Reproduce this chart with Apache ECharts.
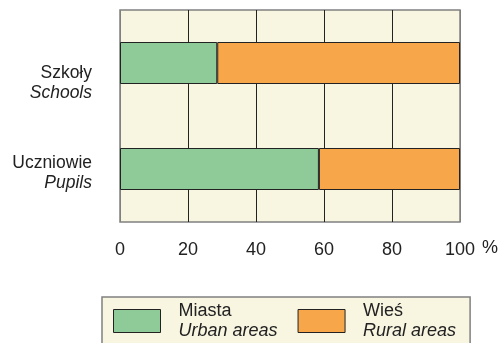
<!DOCTYPE html>
<html>
<head>
<meta charset="utf-8">
<script src="https://cdn.jsdelivr.net/npm/echarts@6/dist/echarts.min.js"></script>
<style>
html, body { margin: 0; padding: 0; background: #fff; }
#main { width: 500px; height: 343px; }
</style>
</head>
<body>
<div id="main"></div>
<script>
// dane z wykresu (udział w %)
var categories = ['Szkoły', 'Uczniowie'];
var categoriesEn = ['Schools', 'Pupils'];
var urban = [28.6, 58.5];
var rural = [71.4, 41.5];
var xTicks = [0, 20, 40, 60, 80, 100];
var seriesNames = ['Miasta', 'Wieś'];
var seriesNamesEn = ['Urban areas', 'Rural areas'];

var cream = '#f8f5e1';
var green = '#8fcb98';
var orange = '#f8a64a';
var font = '"Liberation Sans", Arial, Helvetica, sans-serif';

function main() {
    var myChart = echarts.init(document.getElementById('main'));

    var option = {
        animation: false,
        textStyle: { fontFamily: font, color: '#222' },
        grid: {
            left: 120, right: 40, top: 10, bottom: 121,
            show: true,
            backgroundColor: cream,
            borderColor: '#808080',
            borderWidth: 1.5,
            outerBoundsMode: 'none'
        },
        legend: {
            left: 102,
            top: 297,
            orient: 'horizontal',
            itemWidth: 47,
            itemHeight: 23,
            itemGap: 20,
            icon: 'rect',
            padding: [5, 14, 30, 11],
            backgroundColor: cream,
            borderColor: '#808080',
            borderWidth: 1.5,
            borderRadius: 0,
            data: seriesNames,
            itemStyle: { borderColor: '#222', borderWidth: 1 },
            formatter: function (name) {
                var i = seriesNames.indexOf(name);
                return '{a|' + name + '}\n{b|' + seriesNamesEn[i] + '}';
            },
            textStyle: {
                padding: [0, 0, 0, 13],
                rich: {
                    a: { fontSize: 18, lineHeight: 20, color: '#222', fontFamily: font },
                    b: { fontSize: 18, lineHeight: 20, color: '#222', fontFamily: font, fontStyle: 'italic' }
                }
            }
        },
        xAxis: {
            type: 'value',
            min: 0,
            max: 100,
            interval: 20,
            name: '%',
            nameLocation: 'end',
            nameGap: 22,
            nameTextStyle: { fontSize: 18, color: '#222', verticalAlign: 'top', lineHeight: 52 },
            axisLine: { show: false },
            axisTick: { show: false },
            axisLabel: {
                margin: 19,
                fontSize: 18,
                color: '#222',
                formatter: function (v) { return xTicks.indexOf(v) >= 0 ? String(v) : ''; }
            },
            splitLine: {
                show: true,
                lineStyle: { color: ['#808080', '#222', '#222', '#222', '#222', '#808080'], width: 1 }
            }
        },
        yAxis: {
            type: 'category',
            inverse: true,
            data: categories,
            axisLine: { show: false },
            axisTick: { show: false },
            splitLine: { show: false },
            axisLabel: {
                margin: 28,
                align: 'right',
                formatter: function (value, index) {
                    var s = '{a|' + value + '}\n{b|' + categoriesEn[index] + '}';
                    // etykieta "Szkoły" jest przesunięta w dół względem słupka
                    if (index === 0) s = '{gap| }\n' + s;
                    else s = '{gap2| }\n' + s;
                    return s;
                },
                rich: {
                    gap: { lineHeight: 40, fontSize: 10 },
                    gap2: { lineHeight: 9, fontSize: 4 },
                    a: { fontSize: 17.5, lineHeight: 20, color: '#222', fontFamily: font, align: 'right' },
                    b: { fontSize: 17.5, lineHeight: 20, color: '#222', fontFamily: font, fontStyle: 'italic', align: 'right' }
                }
            }
        },
        series: [{
            name: seriesNames[0],
            type: 'bar',
            stack: 'all',
            barWidth: 42,
            data: urban,
            itemStyle: { color: green, borderColor: '#222', borderWidth: 1 }
        }, {
            name: seriesNames[1],
            type: 'bar',
            stack: 'all',
            barWidth: 42,
            data: rural,
            itemStyle: { color: orange, borderColor: '#222', borderWidth: 1 }
        }]
    };

    myChart.setOption(option);
}

main();
</script>
</body>
</html>
